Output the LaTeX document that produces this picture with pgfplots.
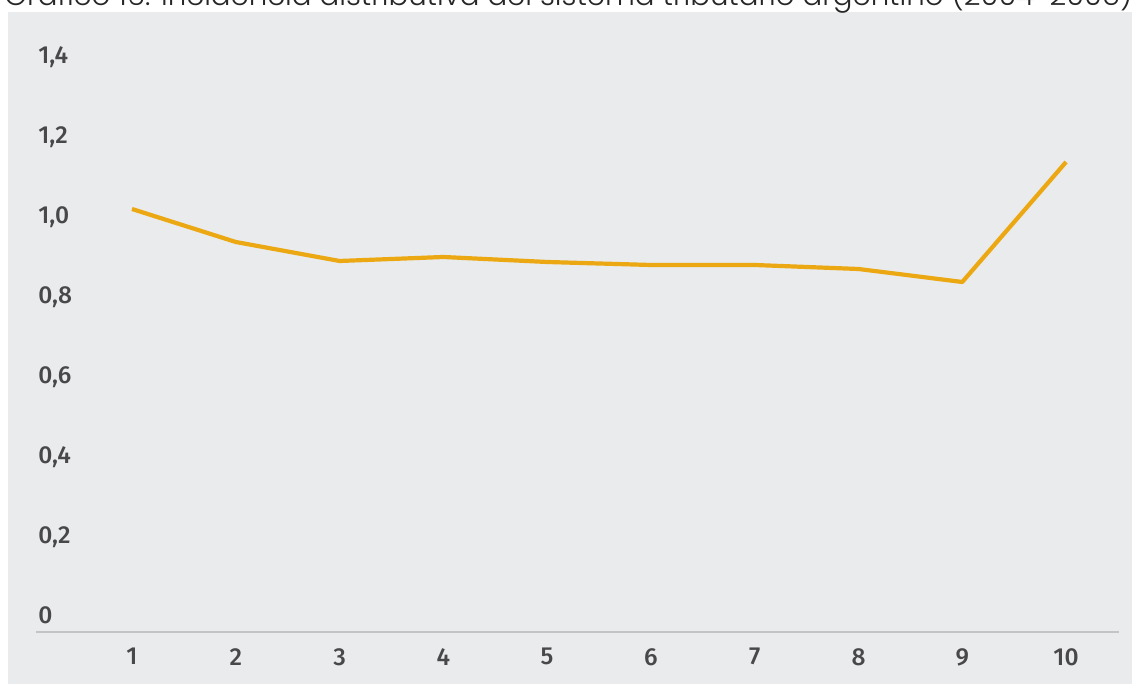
\documentclass[border=0pt]{standalone}
\usepackage{fontspec}
\usepackage{pgfplots}
\pgfplotsset{compat=1.18}
\setmainfont{Liberation Sans}
\IfFontExistsTF{Poppins Light}{\newfontfamily\titlefont{Poppins Light}}{\newfontfamily\titlefont{Lato}}
\IfFontExistsTF{Fira Sans Medium}{\newfontfamily\tickfont{Fira Sans Medium}}{\newfontfamily\tickfont{Liberation Sans}}
\definecolor{panel}{RGB}{234,235,237}
\definecolor{lab}{RGB}{72,72,74}
\definecolor{base}{RGB}{196,196,198}
\definecolor{serie}{RGB}{236,168,18}
\begin{document}
\begin{tikzpicture}
\fill[panel] (4pt,0pt) rectangle (566pt,336pt);
\node[anchor=base west, inner sep=0pt, text=black!85] at (2pt,339.2pt) {\titlefont\fontsize{14.6}{16}\selectfont Gráfico 16. Incidencia distributiva del sistema tributario argentino (2004-2005)};
\begin{axis}[
  at={(18pt,26pt)}, anchor=south west,
  scale only axis, width=541.5pt, height=290pt,
  xmin=0.075, xmax=10.51, ymin=0, ymax=1.45,
  axis x line*=bottom, axis y line*=left,
  axis line style={-},
  x axis line style={draw=base, line width=0.75pt},
  y axis line style={draw=none},
  /pgf/number format/assume math mode=true,
  xtick={1,...,10}, major tick length=0pt,
  ytick={0,0.2,0.4,0.6,0.8,1.0,1.2,1.4},
  yticklabels={{0},{0,2},{0,4},{0,6},{0,8},{1,0},{1,2},{1,4}},
  xticklabel style={anchor=north, inner sep=0pt, yshift=-8pt, text=lab, font=\tickfont\fontsize{12.3}{14}\selectfont},
  yticklabel style={anchor=base west, inner sep=0pt, xshift=1pt, yshift=4pt, text=lab, font=\tickfont\fontsize{12.3}{14}\selectfont},
  clip=false,
]
\addplot[serie, line width=2.1pt, line join=round, no marks] coordinates {
(1,1.0575) (2,0.975) (3,0.9275) (4,0.9375) (5,0.925) (6,0.9175) (7,0.9175) (8,0.9075) (9,0.875) (10,1.175)
};
\end{axis}
\pgfresetboundingbox
\useasboundingbox (0,0) rectangle (566pt,342pt);
\end{tikzpicture}
\end{document}
